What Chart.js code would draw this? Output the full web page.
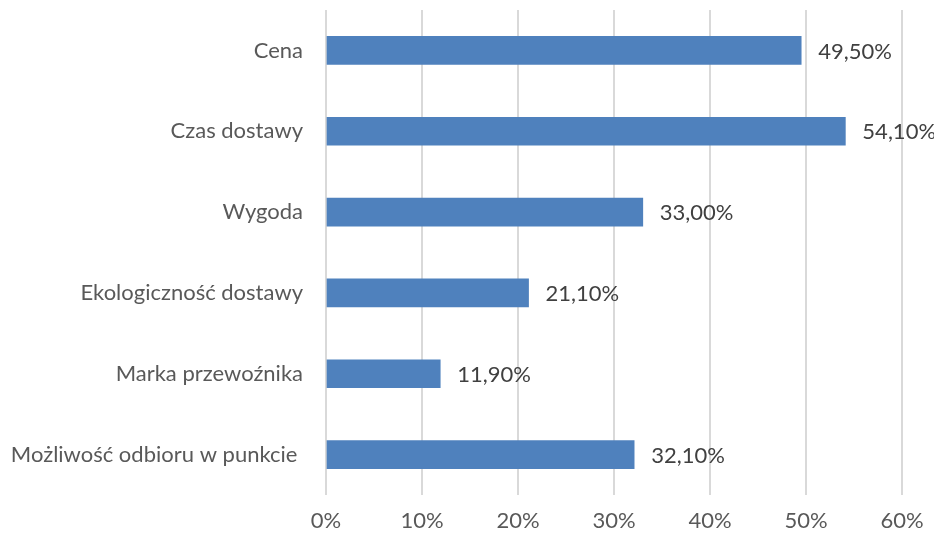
<!DOCTYPE html>
<html>
<head>
<meta charset="utf-8">
<script src="https://cdn.jsdelivr.net/npm/chart.js@4/dist/chart.umd.min.js"></script>
<style>
  html, body { margin: 0; padding: 0; background: #ffffff; }
  #wrap { width: 934px; height: 534px; }
</style>
</head>
<body>
<div id="wrap"><canvas id="c" width="934" height="534"></canvas></div>
<script>
const categories = [
  'Cena',
  'Czas dostawy',
  'Wygoda',
  'Ekologiczność dostawy',
  'Marka przewoźnika',
  'Możliwość odbioru w punkcie '
];
const shares = [49.5, 54.1, 33.0, 21.1, 11.9, 32.1];
const axisMax = 60;
const axisStep = 10;

const FONT = 'Lato, "Liberation Sans", sans-serif';
const FONT_SIZE = 22;

const fmtValue = v => v.toFixed(2).replace('.', ',') + '%';

// value labels placed to the right of each bar end
const valueLabels = {
  id: 'valueLabels',
  afterDatasetsDraw(chart) {
    const ctx = chart.ctx;
    const meta = chart.getDatasetMeta(0);
    ctx.save();
    ctx.font = FONT_SIZE + 'px ' + FONT;
    ctx.fillStyle = '#404040';
    ctx.textAlign = 'left';
    ctx.textBaseline = 'middle';
    meta.data.forEach((bar, i) => {
      ctx.fillText(fmtValue(shares[i]), bar.x + 17, bar.y + 1);
    });
    ctx.restore();
  }
};

new Chart(document.getElementById('c'), {
  type: 'bar',
  data: {
    labels: categories,
    datasets: [{
      data: shares,
      backgroundColor: '#4f81bd',
      borderWidth: 0,
      barThickness: 28
    }]
  },
  options: {
    indexAxis: 'y',
    responsive: false,
    animation: false,
    devicePixelRatio: 1,
    layout: { padding: { left: 0, right: 32, top: 10, bottom: 0 } },
    plugins: {
      legend: { display: false },
      tooltip: { enabled: false }
    },
    scales: {
      x: {
        min: 0,
        max: axisMax,
        ticks: {
          stepSize: axisStep,
          callback: v => v + '%',
          color: '#595959',
          font: { family: FONT, size: FONT_SIZE },
          padding: 13
        },
        grid: { color: '#d9d9d9', lineWidth: 2, drawTicks: false },
        border: { display: false },
        afterFit: s => { s.height = 39; s.paddingLeft = 0; s.paddingRight = 0; }
      },
      y: {
        ticks: {
          color: '#595959',
          font: { family: FONT, size: FONT_SIZE },
          padding: 23
        },
        grid: { display: false, drawTicks: false },
        border: { display: false },
        afterFit: s => { s.width = 326; s.paddingTop = 0; s.paddingBottom = 0; }
      }
    }
  },
  plugins: [valueLabels]
});
</script>
</body>
</html>
